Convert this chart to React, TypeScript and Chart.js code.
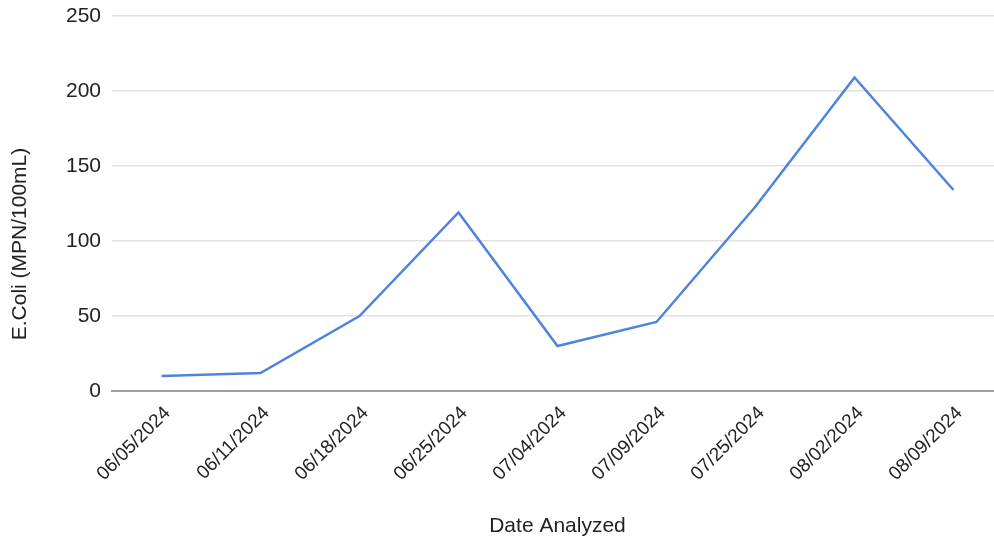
import React, { useEffect, useRef } from "react";
import { Chart, registerables } from "chart.js";

Chart.register(...registerables);

// Sample dates and E. coli counts (MPN/100mL)
const dates = [
  "06/05/2024",
  "06/11/2024",
  "06/18/2024",
  "06/25/2024",
  "07/04/2024",
  "07/09/2024",
  "07/25/2024",
  "08/02/2024",
  "08/09/2024",
];
const ecoli = [10, 12, 50, 119, 30, 46, 123, 209, 134];
const yTicks = [0, 50, 100, 150, 200, 250];

const FONT = "'Liberation Sans', Arial, Helvetica, sans-serif";
const TEXT = "#222222";

// Vertical axis title, placed a little lower than the plot's midline
const yTitlePlugin = {
  id: "yTitle",
  afterDraw(chart: Chart) {
    const { ctx } = chart;
    ctx.save();
    ctx.translate(20, 244);
    ctx.rotate(-Math.PI / 2);
    ctx.font = `21px ${FONT}`;
    ctx.fillStyle = TEXT;
    ctx.textAlign = "center";
    ctx.textBaseline = "middle";
    ctx.fillText("E.Coli (MPN/100mL)", 0, 0);
    ctx.restore();
  },
};

export default function App() {
  const canvasRef = useRef<HTMLCanvasElement | null>(null);

  useEffect(() => {
    const canvas = canvasRef.current;
    if (!canvas) return;
    const chart = new Chart(canvas, {
      type: "line",
      data: {
        labels: dates,
        datasets: [
          {
            label: "E.Coli",
            data: ecoli,
            borderColor: "#4f84dc",
            backgroundColor: "#4f84dc",
            borderWidth: 2.5,
            pointRadius: 0,
            tension: 0,
          },
        ],
      },
      options: {
        animation: false,
        responsive: false,
        maintainAspectRatio: false,
        layout: { padding: { top: 16, left: 0, right: 0, bottom: 0 } },
        plugins: {
          legend: { display: false },
          tooltip: { enabled: false },
        },
        scales: {
          x: {
            offset: true,
            grid: { display: false, drawTicks: false },
            border: { display: true, color: "#9e9e9e", width: 2 },
            ticks: {
              color: TEXT,
              font: { family: FONT, size: 19 },
              minRotation: 45,
              maxRotation: 45,
              autoSkip: false,
              padding: 11,
              labelOffset: 6,
            },
            title: {
              display: true,
              text: "Date Analyzed",
              color: TEXT,
              font: { family: FONT, size: 21, lineHeight: 1.1 },
              padding: { top: 0, bottom: 0 },
            },
            afterFit(scale: any) {
              scale.height = 147;
              scale.paddingRight = 0;
            },
          },
          y: {
            min: 0,
            max: 250,
            afterBuildTicks(scale: any) {
              scale.ticks = yTicks.map((v) => ({ value: v }));
            },
            grid: {
              drawTicks: false,
              color: (c: any) => (c.tick && c.tick.value === 0 ? "rgba(0,0,0,0)" : "#e2e2e2"),
              lineWidth: 1.5,
            },
            border: { display: false },
            ticks: {
              color: TEXT,
              font: { family: FONT, size: 21 },
              padding: 11,
            },
            afterFit(scale: any) {
              scale.width = 112;
              scale.paddingTop = 0;
              scale.paddingBottom = 0;
            },
          },
        },
      },
      plugins: [yTitlePlugin],
    });
    return () => chart.destroy();
  }, []);

  return (
    <div
      style={{
        position: "fixed",
        left: 0,
        top: 0,
        width: 994,
        height: 538,
        overflow: "hidden",
        background: "#ffffff",
      }}
    >
      <canvas
        ref={canvasRef}
        width={1003}
        height={538}
        style={{ display: "block", width: 1003, height: 538 }}
      />
    </div>
  );
}
